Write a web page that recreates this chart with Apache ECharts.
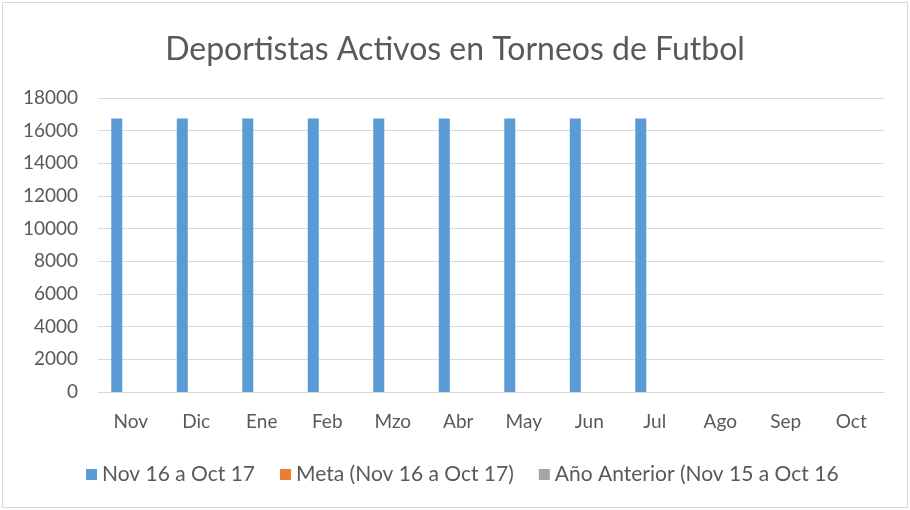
<!DOCTYPE html>
<html>
<head>
<meta charset="utf-8">
<script src="https://cdn.jsdelivr.net/npm/echarts@6/dist/echarts.min.js"></script>
<style>
html,body{margin:0;padding:0;background:#fff;}
#main{width:906px;height:506px;margin:2px;border:1px solid #d9d9d9;box-sizing:border-box;}
</style>
</head>
<body>
<div id="main"></div>
<script>
var meses = ['Nov','Dic','Ene','Feb','Mzo','Abr','May','Jun','Jul','Ago','Sep','Oct'];
var actual = [16750,16750,16750,16750,16750,16750,16750,16750,16750,null,null,null];
var meta = [0,0,0,0,0,0,0,0,0,0,0,0];
var anterior = [0,0,0,0,0,0,0,0,0,0,0,0];
var nombres = ['Nov 16 a Oct 17','Meta (Nov 16 a Oct 17)','Año Anterior (Nov 15 a Oct 16'];

var chart = echarts.init(document.getElementById('main'));
var option = {
	textStyle:{
		fontFamily:'Lato, "Open Sans", sans-serif',
		color:'#595959'
	},
	title:{
		text:'Deportistas Activos en Torneos de Futbol',
		left:'center',
		top:26,
		textStyle:{
			color:'#595959',
			fontSize:32,
			fontWeight:'normal',
			fontFamily:'Lato, "Open Sans", sans-serif'
		}
	},
	legend:{
		left:78,
		top:456,
		icon:'rect',
		itemWidth:11,
		itemHeight:11,
		itemGap:25,
		data:nombres,
		textStyle:{
			color:'#595959',
			fontSize:21
		}
	},
	grid:{
		left:95,
		right:23,
		top:95,
		bottom:115
	},
	xAxis:{
		type:'category',
		data:meses,
		axisLine:{lineStyle:{color:'#d9d9d9'}},
		axisTick:{show:false},
		axisLabel:{color:'#595959',fontSize:19,margin:20}
	},
	yAxis:{
		type:'value',
		min:0,
		max:18000,
		interval:2000,
		axisLine:{show:false},
		axisTick:{show:false},
		splitLine:{lineStyle:{color:'#d9d9d9'}},
		axisLabel:{
			color:'#595959',
			fontSize:19,
			margin:20,
			formatter:function(v){ return String(v); }
		}
	},
	series:[
		{
			name:nombres[0],
			type:'bar',
			data:actual,
			barWidth:11,
			barGap:'27%',
			itemStyle:{color:'#5b9bd5'}
		},
		{
			name:nombres[1],
			type:'bar',
			data:meta,
			barWidth:11,
			itemStyle:{color:'#ed7d31'}
		},
		{
			name:nombres[2],
			type:'bar',
			data:anterior,
			barWidth:11,
			itemStyle:{color:'#a5a5a5'}
		}
	]
};
chart.setOption(option);
</script>
</body>
</html>
